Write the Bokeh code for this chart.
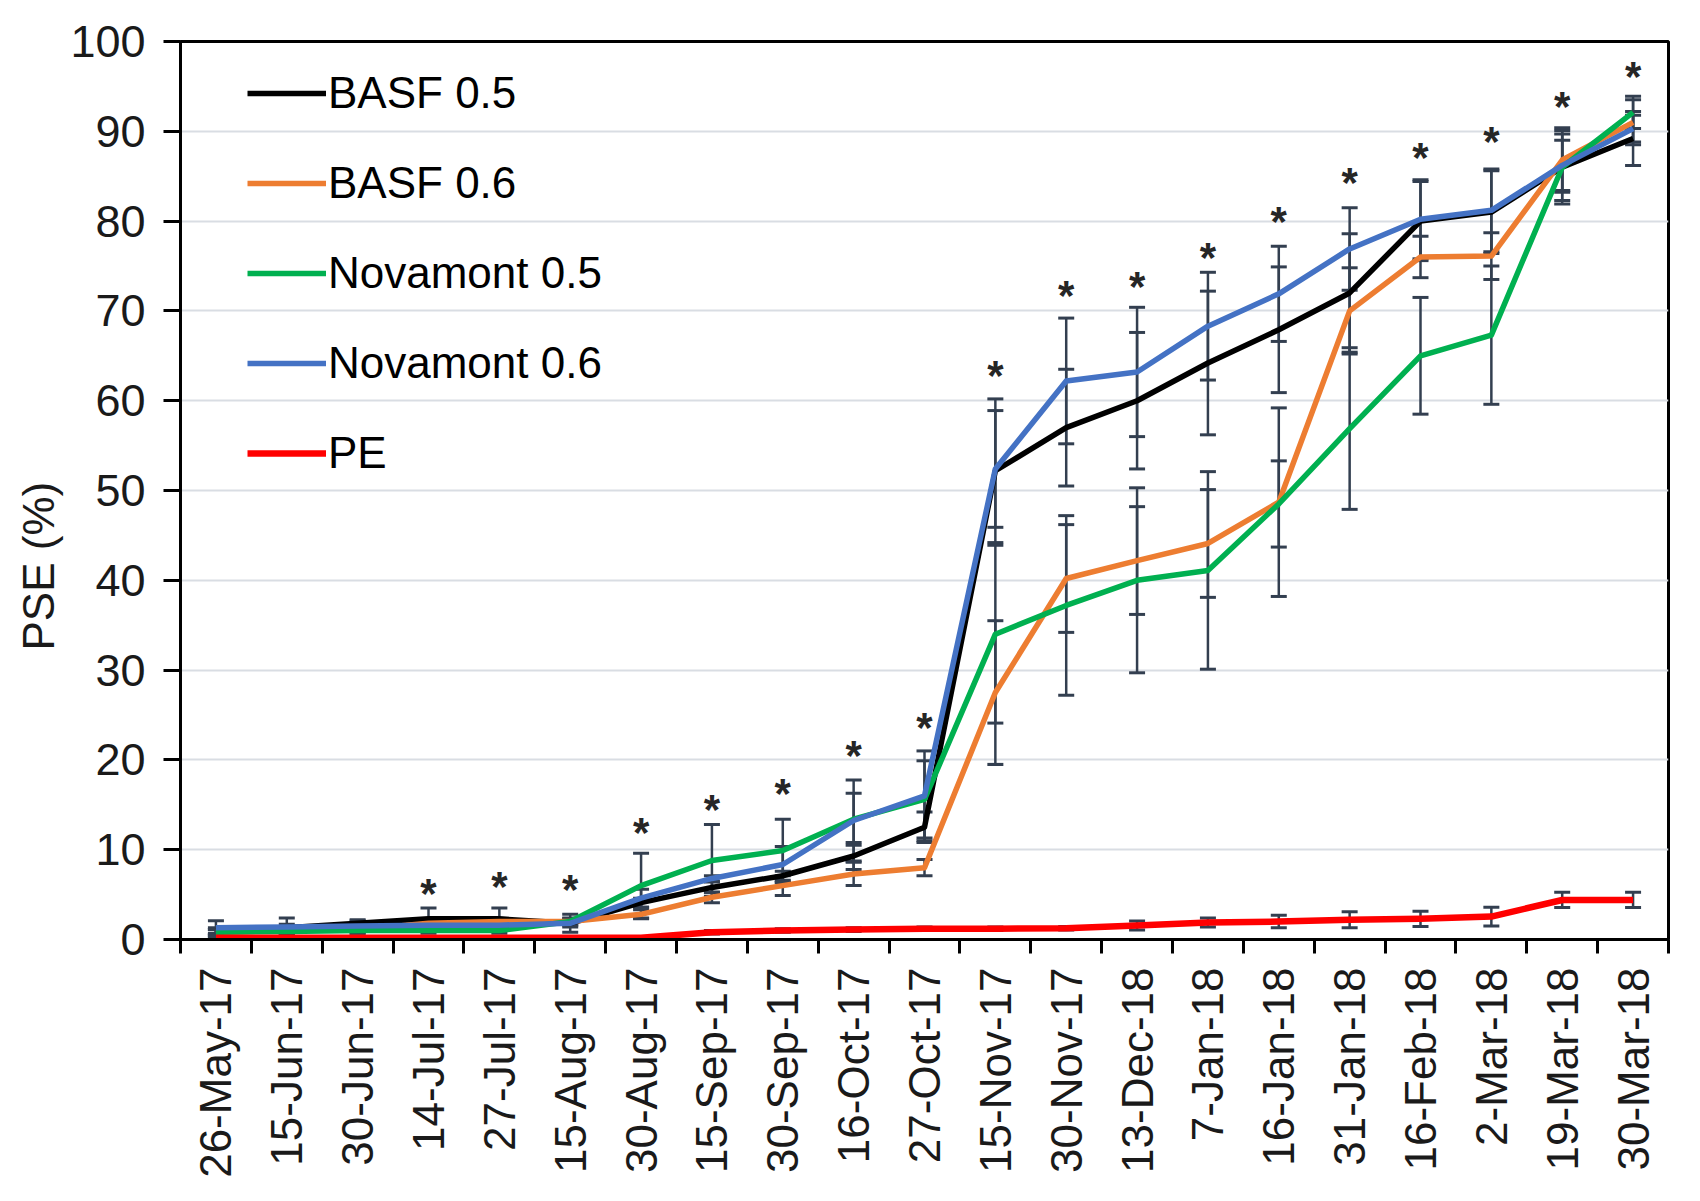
import math
from bokeh.plotting import figure
from bokeh.models import (Range1d, FixedTicker, Whisker, TeeHead, ColumnDataSource,
                          Legend, LegendItem, Title)
from bokeh.core.properties import value
from bokeh.embed import file_html
from bokeh.resources import INLINE

# ---------------- data ----------------
dates = ["26-May-17", "15-Jun-17", "30-Jun-17", "14-Jul-17", "27-Jul-17", "15-Aug-17",
         "30-Aug-17", "15-Sep-17", "30-Sep-17", "16-Oct-17", "27-Oct-17", "15-Nov-17",
         "30-Nov-17", "13-Dec-18", "7-Jan-18", "16-Jan-18", "31-Jan-18", "16-Feb-18",
         "2-Mar-18", "19-Mar-18", "30-Mar-18"]

basf05 = [1.0, 1.3, 1.8, 2.3, 2.3, 1.8, 4.1, 5.8, 7.1, 9.3, 12.5, 52.2, 57.0, 60.0,
          64.2, 67.9, 72.0, 80.0, 81.0, 86.0, 89.2]
basf05_err = [0.3, 0.4, 0.4, 1.2, 1.2, 0.4, 0.5, 0.6, 0.5, 1.5, 1.7, 8.0, 6.5, 7.6,
              8.0, 7.0, 6.6, 4.4, 4.6, 4.1, 3.0]

basf06 = [0.8, 1.0, 1.1, 1.8, 2.0, 2.0, 2.8, 4.7, 6.0, 7.3, 8.0, 27.5, 40.2, 42.2,
          44.1, 48.7, 70.0, 76.0, 76.1, 86.8, 91.0]
basf06_err = [0.3, 0.3, 0.4, 0.3, 0.3, 0.4, 0.5, 0.6, 1.1, 1.3, 0.9, 8.0, 6.0, 6.0,
              6.0, 10.5, 4.8, 2.3, 2.6, 3.6, 2.5]

nova05 = [0.8, 0.9, 1.0, 1.0, 1.0, 2.0, 6.0, 8.8, 9.9, 13.4, 15.6, 34.0, 37.2, 40.0,
          41.1, 48.5, 56.9, 65.0, 67.3, 86.0, 92.1]
nova05_err = [0.3, 0.3, 0.3, 0.3, 0.3, 0.3, 3.6, 4.0, 3.5, 2.9, 4.3, 9.9, 10.0, 10.3,
              11.0, 4.8, 9.0, 6.5, 7.7, 3.7, 1.8]

nova06 = [1.3, 1.4, 1.5, 1.6, 1.6, 1.8, 4.6, 6.8, 8.35, 13.25, 16.0, 52.4, 62.2, 63.2,
          68.3, 71.9, 76.9, 80.2, 81.2, 86.2, 90.3]
nova06_err = [0.8, 1.0, 0.6, 0.5, 0.5, 1.0, 1.0, 0.3, 2.0, 4.5, 5.0, 6.5, 7.0, 7.2,
              6.0, 5.3, 4.6, 4.4, 4.6, 2.8, 1.5]

pe = [0.2, 0.2, 0.2, 0.2, 0.2, 0.2, 0.2, 0.8, 1.0, 1.1, 1.2, 1.2, 1.25, 1.55,
      1.9, 2.0, 2.2, 2.3, 2.55, 4.4, 4.4]
pe_err = [0, 0, 0, 0, 0, 0, 0, 0.2, 0.2, 0.2, 0.2, 0.2, 0.2, 0.5,
          0.5, 0.7, 0.9, 0.85, 1.05, 0.85, 0.85]

star_dates = ["14-Jul-17", "27-Jul-17", "15-Aug-17", "30-Aug-17", "15-Sep-17", "30-Sep-17",
              "16-Oct-17", "27-Oct-17", "15-Nov-17", "30-Nov-17", "13-Dec-18", "7-Jan-18",
              "16-Jan-18", "31-Jan-18", "16-Feb-18", "2-Mar-18", "19-Mar-18", "30-Mar-18"]
star_y = [5.6, 6.3, 6.0, 12.4, 14.9, 16.7, 20.9, 24.1, 63.3, 72.2, 73.2, 76.4,
          80.4, 84.7, 87.5, 89.3, 93.2, 96.6]

y_ticks = [0, 10, 20, 30, 40, 50, 60, 70, 80, 90, 100]

series_names = ["BASF 0.5", "BASF 0.6", "Novamont 0.5", "Novamont 0.6", "PE"]
series_vals = [basf05, basf06, nova05, nova06, pe]
series_errs = [basf05_err, basf06_err, nova05_err, nova06_err, pe_err]
series_colors = ["#000000", "#ED7D31", "#00B050", "#4472C4", "#FF0000"]
series_widths = [5.5, 5.5, 5.5, 5.5, 6.5]

FONT = "Liberation Sans"
TXT = "#1a1a1a"
ERRC = "#333F50"

xs = list(range(len(dates)))

p = figure(width=1692, height=1193, output_backend="svg", toolbar_location=None,
           x_range=Range1d(-0.5, len(dates) - 0.5), y_range=Range1d(0, 100),
           min_border_left=180, min_border_right=24, min_border_top=41,
           min_border_bottom=254)
p.background_fill_color = "white"
p.border_fill_color = "white"
p.outline_line_color = "black"
p.outline_line_width = 3

# grid
p.xgrid.grid_line_color = None
p.ygrid.grid_line_color = "#D9DDE3"
p.ygrid.grid_line_width = 2
p.ygrid.ticker = FixedTicker(ticks=y_ticks)

# y axis
p.yaxis.ticker = FixedTicker(ticks=y_ticks)
p.yaxis.major_tick_out = 17
p.yaxis.major_tick_in = 0
p.yaxis.major_tick_line_width = 3
p.yaxis.major_tick_line_color = "black"
p.yaxis.minor_tick_line_color = None
p.yaxis.axis_line_width = 3
p.yaxis.axis_line_color = "black"
p.yaxis.major_label_text_font = FONT
p.yaxis.major_label_text_font_size = "45px"
p.yaxis.major_label_text_color = TXT
p.yaxis.major_label_standoff = 18

# x axis
p.xaxis.ticker = FixedTicker(ticks=xs, minor_ticks=[i - 0.5 for i in range(len(dates) + 1)])
p.xaxis.major_label_overrides = {i: d for i, d in enumerate(dates)}
p.xaxis.major_tick_out = 14
p.xaxis.major_tick_in = 0
p.xaxis.major_tick_line_color = None
p.xaxis.minor_tick_out = 14
p.xaxis.minor_tick_in = 0
p.xaxis.minor_tick_line_width = 3
p.xaxis.minor_tick_line_color = "black"
p.xaxis.axis_line_width = 3
p.xaxis.axis_line_color = "black"
p.xaxis.major_label_orientation = math.pi / 2
p.xaxis.major_label_text_font = FONT
p.xaxis.major_label_text_font_size = "44px"
p.xaxis.major_label_text_color = TXT
p.xaxis.major_label_standoff = 14

# error bars (under the lines)
for vals, errs in zip(series_vals, series_errs):
    src = ColumnDataSource(dict(x=xs,
                                upper=[v + e for v, e in zip(vals, errs)],
                                lower=[v - e for v, e in zip(vals, errs)]))
    w = Whisker(source=src, base="x", upper="upper", lower="lower",
                line_color=ERRC, line_width=2.5, level="underlay",
                upper_head=TeeHead(size=16, line_color=ERRC, line_width=3),
                lower_head=TeeHead(size=16, line_color=ERRC, line_width=3))
    p.add_layout(w)

# lines
items = []
for name, vals, col, lw in zip(series_names, series_vals, series_colors, series_widths):
    r = p.line(xs, vals, line_color=col, line_width=lw, line_join="round")
    items.append(LegendItem(label=name, renderers=[r]))

# significance asterisks
star_x = [dates.index(d) for d in star_dates]
p.text(star_x, star_y, text=["*"] * len(star_x), text_font=value(FONT),
       text_font_size="42px", text_font_style="bold", text_color="#262626",
       text_align="center", text_baseline="alphabetic", y_offset=4)

legend = Legend(items=items, location=(67, 441))
legend.background_fill_alpha = 0
legend.border_line_color = None
legend.padding = 0
legend.margin = 0
legend.spacing = 0
legend.glyph_width = 79
legend.glyph_height = 90
legend.label_height = 90
legend.label_standoff = 2
legend.label_text_font = FONT
legend.label_text_font_size = "44px"
legend.label_text_color = "black"
p.add_layout(legend)

# y axis title
ytitle = Title(text="PSE (%)", align="left", offset=289, text_font=FONT,
               text_font_size="44px", text_font_style="normal", text_color=TXT)
p.add_layout(ytitle, "left")

open("out.html", "w").write(file_html(p, INLINE))
